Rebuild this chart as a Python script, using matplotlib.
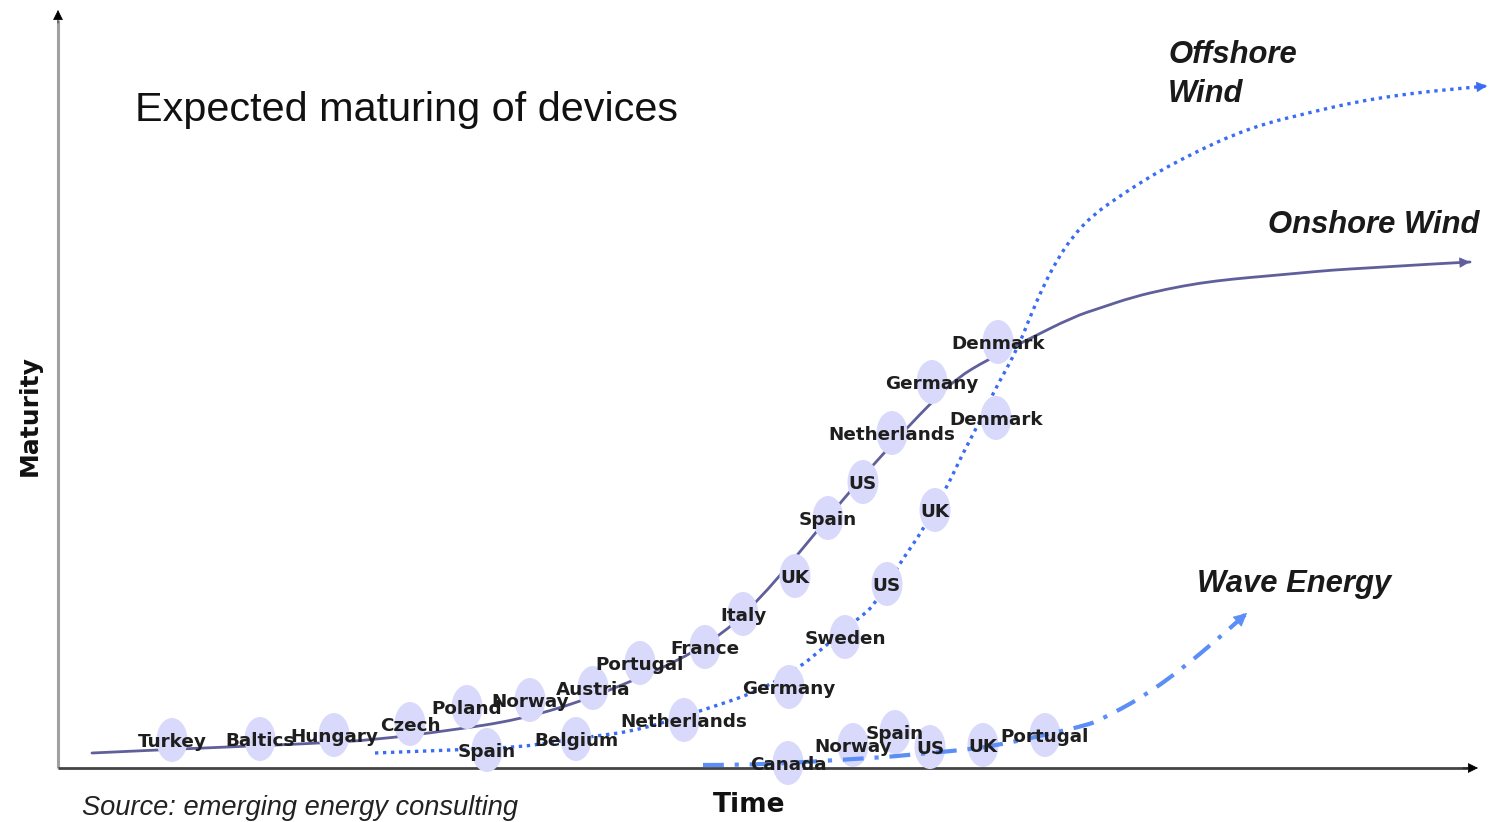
import matplotlib
matplotlib.use("Agg")
import matplotlib.pyplot as plt
from matplotlib.patches import Ellipse, PathPatch
from matplotlib.path import Path

# ---------------- data (time, maturity) measured from the axes origin ----------------
onshore_t = [34, 99, 169, 219, 262, 315, 395, 459, 522, 569, 622, 667, 699, 742, 782, 815,
             849, 874, 899, 929, 969, 1015, 1042, 1075, 1109, 1142, 1175, 1209, 1242, 1275,
             1309, 1342, 1375, 1412]
onshore_m = [15, 18, 21, 23, 25, 28, 38, 48, 66, 85, 108, 136, 166, 216, 265, 303,
             340, 366, 390, 408, 428, 451, 460, 471, 479, 485, 489, 492, 495, 498,
             500, 502, 504, 506]

offshore_t = [317, 395, 462, 489, 545, 569, 605, 645, 699, 742, 759, 802, 815, 842, 865, 889,
              905, 919, 935, 959, 972, 985, 999, 1015, 1035, 1059, 1085, 1109, 1142, 1175,
              1209, 1242, 1275, 1309, 1342, 1375, 1429]
offshore_m = [15, 18, 21, 25, 33, 36, 45, 58, 76, 101, 115, 151, 161, 205, 238, 281,
              315, 341, 375, 418, 451, 481, 508, 532, 553, 570, 587, 601, 618, 633,
              645, 653, 661, 668, 673, 677, 682]

wave_t = [645, 679, 732, 779, 829, 849, 895, 937, 995, 1029, 1042, 1085, 1125, 1162, 1189]
wave_m = [3, 3, 5, 8, 11, 13, 17, 22, 35, 43, 48, 71, 100, 131, 155]

onshore_sites = ["Turkey", "Baltics", "Hungary", "Czech", "Poland", "Norway", "Austria",
                 "Portugal", "France", "Italy", "UK", "Spain", "US", "Netherlands",
                 "Germany", "Denmark"]
onshore_site_t = [114, 202, 276, 352, 409, 472, 535, 582, 647, 685, 737, 770, 805, 834, 874, 940]
onshore_site_m = [28, 29, 33, 44, 61, 68, 80, 105, 121, 154, 192, 250, 286, 335, 386, 426]

offshore_sites = ["Spain", "Belgium", "Netherlands", "Germany", "Sweden", "US", "UK", "Denmark"]
offshore_site_t = [429, 518, 626, 731, 787, 829, 877, 938]
offshore_site_m = [18, 29, 48, 81, 131, 184, 258, 350]

wave_sites = ["Canada", "Norway", "Spain", "US", "UK", "Portugal"]
wave_site_t = [730, 795, 837, 872, 925, 987]
wave_site_m = [5, 23, 36, 21, 23, 33]

# ---------------- figure ----------------
W, H = 1489, 822
fig = plt.figure(figsize=(W / 100, H / 100), dpi=100)
ax = fig.add_axes([0, 0, 1, 1])
ax.set_xlim(-58, W - 58)
ax.set_ylim(-54, H - 54)
ax.axis("off")

ON_C = "#5f5f9c"
OFF_C = "#3a6cf4"
WAVE_C = "#5b8ef7"
CIRC_C = "#d9d9fb"
LBL = dict(family="DejaVu Sans", fontsize=13.2, fontweight="bold", color="#1e1e1e",
           ha="center", va="center", zorder=10)

# axes with arrows
ax.plot([0, 0], [0, 748], color="#a0a0a0", lw=2.2, zorder=1, solid_capstyle="butt")
ax.annotate("", xy=(0, 758), xytext=(0, 745),
            arrowprops=dict(arrowstyle="-|>", color="black", lw=0.5, mutation_scale=16,
                            shrinkA=0, shrinkB=0))
ax.plot([0, 1410], [0, 0], color="#444444", lw=2.0, zorder=1, solid_capstyle="butt")
ax.annotate("", xy=(1420, 0), xytext=(1405, 0),
            arrowprops=dict(arrowstyle="-|>", color="black", lw=0.5, mutation_scale=16,
                            shrinkA=0, shrinkB=0))


def smooth_curve(t, m, **kw):
    """Draw a line through the read points, rounding the corners with quadratic Beziers."""
    pts = list(zip(t, m))
    verts = [pts[0]]
    codes = [Path.MOVETO]
    for i in range(1, len(pts) - 1):
        mid = ((pts[i][0] + pts[i + 1][0]) / 2, (pts[i][1] + pts[i + 1][1]) / 2)
        verts += [pts[i], mid]
        codes += [Path.CURVE3, Path.CURVE3]
    verts.append(pts[-1])
    codes.append(Path.LINETO)
    ax.add_patch(PathPatch(Path(verts, codes), fill=False, **kw))


def arrow_end(t, m, color, z, scale):
    dt, dm = t[-1] - t[-2], m[-1] - m[-2]
    n = (dt ** 2 + dm ** 2) ** 0.5
    ax.annotate("", xy=(t[-1], m[-1]), xytext=(t[-1] - dt / n * 8, m[-1] - dm / n * 8),
                arrowprops=dict(arrowstyle="-|>", color=color, lw=0.5, mutation_scale=scale,
                                shrinkA=0, shrinkB=0), zorder=z)


# onshore
smooth_curve(onshore_t, onshore_m, edgecolor=ON_C, lw=2.0, zorder=2, capstyle="round")
arrow_end(onshore_t, onshore_m, ON_C, 2, 17)
for t, m in zip(onshore_site_t, onshore_site_m):
    ax.add_patch(Ellipse((t, m), 31, 44, facecolor=CIRC_C, edgecolor="none", zorder=3))

# offshore
smooth_curve(offshore_t, offshore_m, edgecolor=OFF_C, lw=2.4, ls=(0, (1, 1.4)), zorder=4,
             capstyle="butt")
arrow_end(offshore_t, offshore_m, OFF_C, 4, 17)
for t, m in zip(offshore_site_t, offshore_site_m):
    ax.add_patch(Ellipse((t, m), 31, 44, facecolor=CIRC_C, edgecolor="none", zorder=5))

# wave
for t, m in zip(wave_site_t, wave_site_m):
    ax.add_patch(Ellipse((t, m), 31, 44, facecolor=CIRC_C, edgecolor="none", zorder=5))
smooth_curve(wave_t, wave_m, edgecolor=WAVE_C, lw=3.0, ls=(0, (5, 2.6, 1, 2.6)), zorder=6,
             capstyle="butt")
arrow_end(wave_t, wave_m, WAVE_C, 6, 22)

# labels
for name, t, m in zip(onshore_sites, onshore_site_t, onshore_site_m):
    ax.text(t, m - 2, name, **LBL)
for name, t, m in zip(offshore_sites, offshore_site_t, offshore_site_m):
    ax.text(t, m - 2, name, **LBL)
for name, t, m in zip(wave_sites, wave_site_t, wave_site_m):
    ax.text(t, m - 2, name, **LBL)

# titles / annotations
ax.text(77, 647, "Expected maturing of devices", family="Liberation Sans", fontsize=29.8,
        color="#111111", ha="left", va="baseline")
series_font = dict(family="Liberation Sans", fontsize=22.3, fontweight="bold", style="italic",
                   color="#1a1a1a", ha="left", va="baseline")
ax.text(1110, 705, "Offshore", **series_font)
ax.text(1110, 666, "Wind", **series_font)
ax.text(1210, 535, "Onshore Wind", **series_font)
ax.text(1139, 176, "Wave Energy", **series_font)

ax.text(-28, 352, "Maturity", family="DejaVu Sans", fontsize=18, fontweight="bold",
        rotation=90, ha="center", va="center", color="#111111")
ax.text(691, -44, "Time", family="DejaVu Sans", fontsize=19, fontweight="bold",
        ha="center", va="baseline", color="#111111")
ax.text(24, -47, "Source: emerging energy consulting", family="Liberation Sans", fontsize=19.6,
        style="italic", ha="left", va="baseline", color="#222222")

fig.savefig("out.png", dpi=100)
